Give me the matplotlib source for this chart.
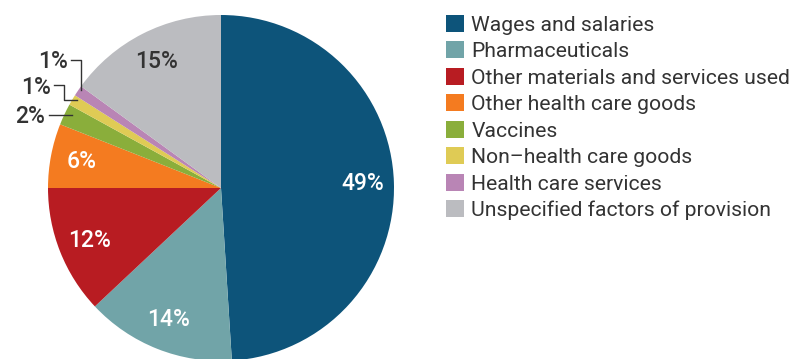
import matplotlib.pyplot as plt
from matplotlib.patches import Patch
import numpy as np

plt.rcParams['font.family'] = ['Roboto', 'DejaVu Sans']

categories = ['Wages and salaries', 'Pharmaceuticals', 'Other materials and services used',
              'Other health care goods', 'Vaccines', 'Non\u2013health care goods',
              'Health care services', 'Unspecified factors of provision']
shares = [49, 14, 12, 6, 2, 1, 1, 15]
colors = ['#0d547a', '#71a4a8', '#b81c22', '#f47b20', '#8aae3b', '#dfcb55', '#b985b5', '#bbbcc0']
text_dark = '#333333'

W, H = 803, 359
fig = plt.figure(figsize=(W / 100, H / 100), dpi=100)

# pie axes placed in pixels: centre (221, 188), radius 173
cx, cy, r = 221, 188, 173
ax = fig.add_axes([(cx - r) / W, (H - cy - r) / H, 2 * r / W, 2 * r / H])
wedges, _ = ax.pie(shares, colors=colors, startangle=90, counterclock=False,
                   radius=1, wedgeprops=dict(linewidth=0))
ax.set_xlim(-1, 1)
ax.set_ylim(-1, 1)
ax.axis('off')

# percentage labels inside the bigger slices
for w, v in zip(wedges, shares):
    if v < 5:
        continue
    mid = np.deg2rad((w.theta1 + w.theta2) / 2)
    rr = 0.82
    col = text_dark if v == 15 else 'white'
    ax.text(rr * np.cos(mid), rr * np.sin(mid), f'{v}%', color=col, fontsize=16.5,
            fontweight='medium', ha='center', va='center')

def px(x, y):
    return (x - cx) / r, (cy - y) / r

# leader lines for the thin slices
small = [
    (6, [(81, 90), (81, 60), (71, 60)], (68, 62)),
    (5, [(77, 100), (64, 100), (64, 85), (54, 85)], (51, 87)),
    (4, [(72, 115), (49, 115)], (45, 117)),
]
for i, pts, tpos in small:
    xs, ys = zip(*[px(*p) for p in pts])
    ax.plot(xs, ys, color=text_dark, lw=1, clip_on=False)
    tx, ty = px(*tpos)
    ax.text(tx, ty, f'{shares[i]}%', color=text_dark, fontsize=16.5, fontweight='medium',
            ha='right', va='center', clip_on=False)

handles = [Patch(facecolor=c, edgecolor='none') for c in colors]
fig.legend(handles, categories, loc='upper left', bbox_to_anchor=(446 / W, 1 - 15 / H),
           frameon=False, fontsize=15.2, handlelength=0.85, handleheight=0.85,
           labelspacing=0.32, handletextpad=0.35, borderpad=0, borderaxespad=0,
           labelcolor=text_dark)

fig.savefig('out.png', dpi=100)
